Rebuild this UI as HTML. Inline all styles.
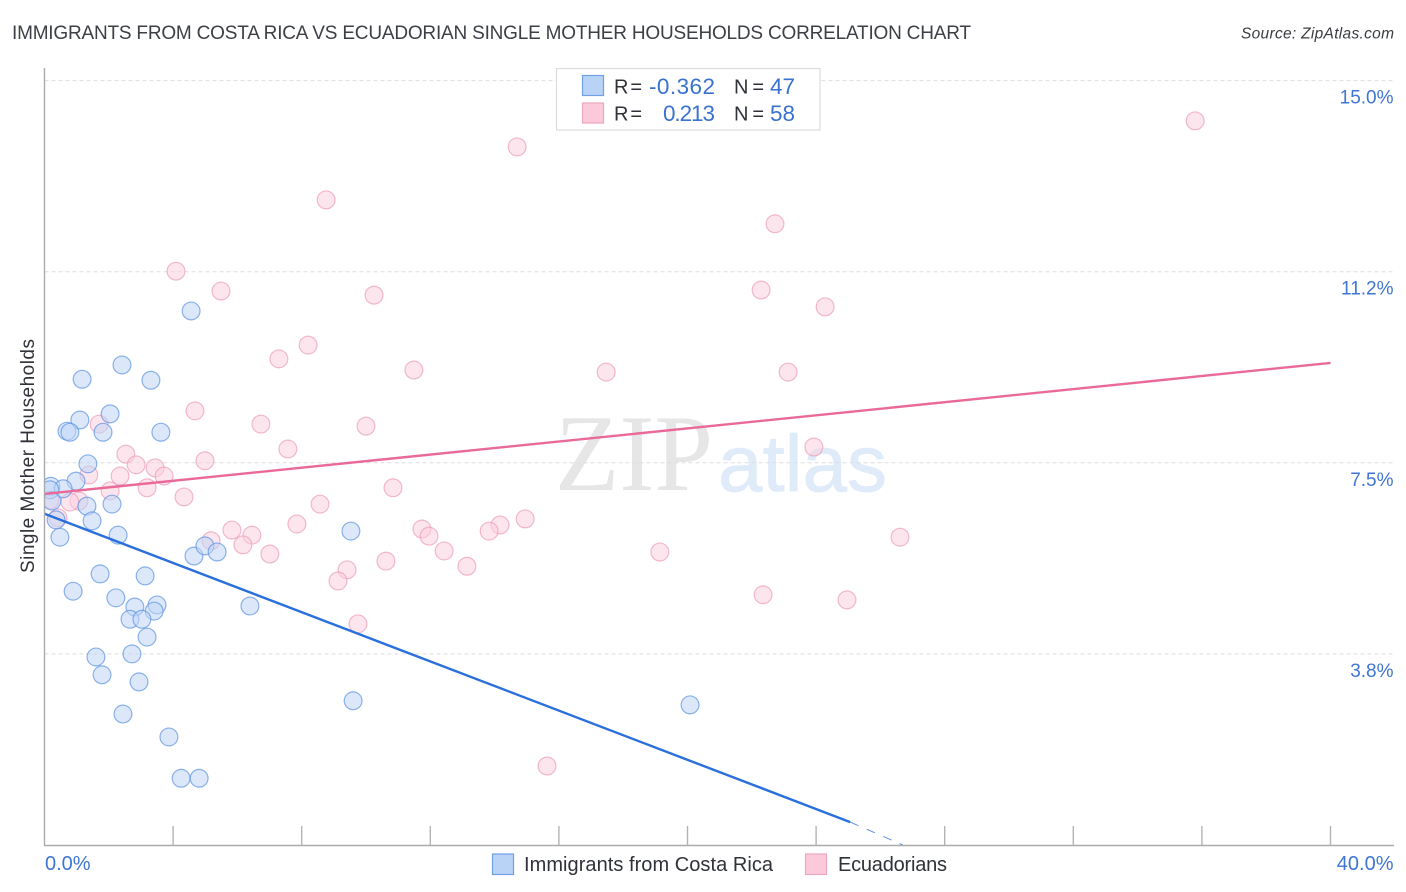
<!DOCTYPE html>
<html lang="en">
<head>
<meta charset="utf-8">
<title>Immigrants from Costa Rica vs Ecuadorian Single Mother Households Correlation Chart</title>
<style>
html,body{margin:0;padding:0;background:#fff;width:1406px;height:892px;overflow:hidden}
svg{display:block;font-family:"Liberation Sans",sans-serif}
.tick-label{fill:#3f76d4;font-size:19px}
.x-end-label{fill:#3f76d4;font-size:20px}
.legend-text{fill:#2f3238;font-size:20px}
.legend-value{fill:#3a72cf;font-size:22.5px}
</style>
</head>
<body>
<svg id="chart" width="1406" height="892" viewBox="0 0 1406 892" xmlns="http://www.w3.org/2000/svg">
  <defs>
    <clipPath id="plot-clip"><rect x="45" y="60" width="1350" height="785"/></clipPath>
  </defs>
  <text x="12" y="39" font-size="19" fill="#3c3f45" textLength="959" lengthAdjust="spacing">IMMIGRANTS FROM COSTA RICA VS ECUADORIAN SINGLE MOTHER HOUSEHOLDS CORRELATION CHART</text>
  <text x="1241" y="38.5" font-size="15.5" font-style="italic" fill="#3a3d42" textLength="153" lengthAdjust="spacing">Source: ZipAtlas.com</text>

  <g id="watermark">
    <text x="555" y="490" font-family="'Liberation Serif',serif" font-size="109" fill="#e6e6e6" textLength="158" lengthAdjust="spacingAndGlyphs">ZIP</text>
    <text x="718" y="491" font-size="80" fill="#e0ebf9" stroke="#e0ebf9" stroke-width="0.8" textLength="169" lengthAdjust="spacingAndGlyphs">atlas</text>
  </g>

  <g id="grid"></g>
  <g id="points-pink" clip-path="url(#plot-clip)"></g>
  <g id="points-blue" clip-path="url(#plot-clip)"></g>
  <g id="trends"></g>
  <g id="axes"></g>
  <g id="y-labels"></g>
  <g id="x-labels"></g>

  <text transform="translate(34 573) rotate(-90)" font-size="19" fill="#2f3238" textLength="234" lengthAdjust="spacing">Single Mother Households</text>

  <g>
    <rect x="556.5" y="68.5" width="263.5" height="61.5" fill="#fff" stroke="#dcdcdc" stroke-width="1.2"/>
    <rect x="582.5" y="75.5" width="21" height="20" fill="#b9d3f7" stroke="#6fa0e4" stroke-width="1.2"/>
    <rect x="582.5" y="103" width="21" height="20" fill="#fcc9da" stroke="#eda6bf" stroke-width="1.2"/>
    <text class="legend-text" x="614" y="93.5" textLength="28" lengthAdjust="spacing">R =</text>
    <text class="legend-value" x="649" y="94" textLength="66" lengthAdjust="spacing">-0.362</text>
    <text class="legend-text" x="734" y="93.5" textLength="30" lengthAdjust="spacing">N =</text>
    <text class="legend-value" x="770" y="94" textLength="25" lengthAdjust="spacing">47</text>
    <text class="legend-text" x="614" y="120.5" textLength="28" lengthAdjust="spacing">R =</text>
    <text class="legend-value" x="663" y="121" textLength="52" lengthAdjust="spacing">0.213</text>
    <text class="legend-text" x="734" y="120.5" textLength="30" lengthAdjust="spacing">N =</text>
    <text class="legend-value" x="770" y="121" textLength="25" lengthAdjust="spacing">58</text>
  </g>

  <g>
    <rect x="492.5" y="854" width="21" height="20.5" fill="#b9d3f7" stroke="#6fa0e4" stroke-width="1.2"/>
    <text class="legend-text" x="524" y="871" textLength="249" lengthAdjust="spacing">Immigrants from Costa Rica</text>
    <rect x="805.5" y="854" width="21" height="20.5" fill="#fcc9da" stroke="#eda6bf" stroke-width="1.2"/>
    <text class="legend-text" x="838" y="871" textLength="109" lengthAdjust="spacing">Ecuadorians</text>
  </g>
</svg>

<script>
const xTickValues = [0,4,8,12,16,20,24,28,32,36,40];
const yTickValues = [3.75,7.5,11.25,15];
const yTickLabels = ["3.8%","7.5%","11.2%","15.0%"];
const xEndLabels = ["0.0%","40.0%"];

const blueX = [4.56,2.41,3.31,1.17,2.04,1.10,0.70,0.79,1.82,3.62,1.35,0.98,0.20,0.58,0.17,1.32,2.10,0.23,1.48,0.36,0.48,2.29,4.65,4.99,5.37,9.53,1.73,3.13,0.89,2.22,2.81,3.50,3.41,2.66,3.03,6.39,3.19,2.72,1.60,1.79,2.94,9.60,20.08,2.44,3.87,4.25,4.81];
const blueY = [10.48,9.42,9.12,9.14,8.46,8.34,8.12,8.10,8.10,8.10,7.48,7.14,7.04,6.99,6.97,6.65,6.69,6.75,6.36,6.38,6.04,6.08,5.67,5.87,5.75,6.16,5.32,5.28,4.98,4.85,4.67,4.71,4.59,4.43,4.43,4.69,4.08,3.75,3.69,3.34,3.20,2.83,2.75,2.57,2.12,1.31,1.31];

const pinkX = [35.79,14.70,8.76,22.72,4.09,5.49,10.25,22.29,24.28,8.20,7.29,11.49,17.47,23.13,4.68,1.70,6.73,10.00,7.57,23.93,2.53,4.99,2.85,3.44,1.38,2.35,3.72,10.84,3.19,2.04,4.34,1.07,8.57,0.79,0.17,14.95,0.42,14.17,7.85,11.74,13.83,5.83,6.45,11.96,5.18,6.17,26.61,7.01,12.43,19.14,10.62,13.14,9.41,9.13,22.35,24.96,9.75,15.63];
const pinkY = [14.21,13.70,12.66,12.19,11.26,10.87,10.79,10.89,10.56,9.81,9.54,9.32,9.28,9.28,8.52,8.26,8.26,8.22,7.77,7.81,7.67,7.54,7.46,7.40,7.26,7.24,7.24,7.01,7.01,6.95,6.83,6.75,6.69,6.73,6.77,6.40,6.42,6.28,6.30,6.20,6.16,6.18,6.08,6.06,5.97,5.89,6.04,5.71,5.77,5.75,5.57,5.47,5.40,5.18,4.91,4.81,4.34,1.55];

const blueTrendX = [0,25.06];
const blueTrendY = [6.50,0.45];
const blueTrendDashX = [25.06,26.70];
const blueTrendDashY = [0.45,0];
const pinkTrendX = [0,40];
const pinkTrendY = [6.89,9.46];

const NS = "http://www.w3.org/2000/svg";
function xScale(v){ return 44.5 + v * 32.15; }
function yScale(v){ return 845 - v * 50.96; }
function mk(tag, attrs, parent){
  const el = document.createElementNS(NS, tag);
  for (const k in attrs) el.setAttribute(k, attrs[k]);
  parent.appendChild(el);
  return el;
}

const grid = document.getElementById("grid");
yTickValues.forEach(function(v){
  const y = yScale(v);
  const el = mk("line", {x1:44.5, x2:1394, y1:y, y2:y, stroke:"#dedede", "stroke-width":1, "stroke-dasharray":"4 3"}, grid);
  
  
});

function drawPoints(xs, ys, group, fill, stroke, name){
  xs.forEach(function(v, i){
    const c = mk("circle", {cx:xScale(v), cy:yScale(ys[i]), r:8.9, fill:fill, "fill-opacity":0.55, stroke:stroke, "stroke-opacity":0.7, "stroke-width":1.2}, group);
    
    
  });
}
drawPoints(pinkX, pinkY, document.getElementById("points-pink"), "#fbd0df", "#eb9db8", "ecuadorians-point");
drawPoints(blueX, blueY, document.getElementById("points-blue"), "#bfd6f6", "#5c93e2", "costa-rica-point");

const trends = document.getElementById("trends");
const pinkLine = mk("line", {x1:xScale(pinkTrendX[0]), y1:yScale(pinkTrendY[0]), x2:xScale(pinkTrendX[1]), y2:yScale(pinkTrendY[1]), stroke:"#e96a98", "stroke-width":2.4}, trends);


const blueLine = mk("line", {x1:xScale(blueTrendX[0]), y1:yScale(blueTrendY[0]), x2:xScale(blueTrendX[1]), y2:yScale(blueTrendY[1]), stroke:"#2a6fdb", "stroke-width":2.4}, trends);


const blueDash = mk("line", {x1:xScale(blueTrendDashX[0]), y1:yScale(blueTrendDashY[0]), x2:xScale(blueTrendDashX[1]), y2:yScale(blueTrendDashY[1]), stroke:"#5c93e2", "stroke-width":1, "stroke-dasharray":"9 9"}, trends);



const axes = document.getElementById("axes");
const yAxis = mk("line", {x1:44.5, x2:44.5, y1:68, y2:845.5, stroke:"#aaaaaa", "stroke-width":1.4}, axes);


const xAxis = mk("line", {x1:44, x2:1394, y1:845.5, y2:845.5, stroke:"#aaaaaa", "stroke-width":1.4}, axes);


xTickValues.slice(1).forEach(function(v){
  const x = xScale(v);
  const t = mk("line", {x1:x, x2:x, y1:826, y2:845, stroke:"#b4b4b4", "stroke-width":1.4}, axes);
  
  
});

const yLabels = document.getElementById("y-labels");
yTickValues.forEach(function(v, i){
  const t = mk("text", {x:1393.5, y:yScale(v) + 23, "text-anchor":"end", class:"tick-label"}, yLabels);
  t.textContent = yTickLabels[i];
  
  
});

const xLabels = document.getElementById("x-labels");
const x0Label = mk("text", {x:45, y:870, class:"x-end-label"}, xLabels);
x0Label.textContent = xEndLabels[0];


const x1Label = mk("text", {x:1393.5, y:870, "text-anchor":"end", class:"x-end-label"}, xLabels);
x1Label.textContent = xEndLabels[1];


</script>
</body>
</html>
